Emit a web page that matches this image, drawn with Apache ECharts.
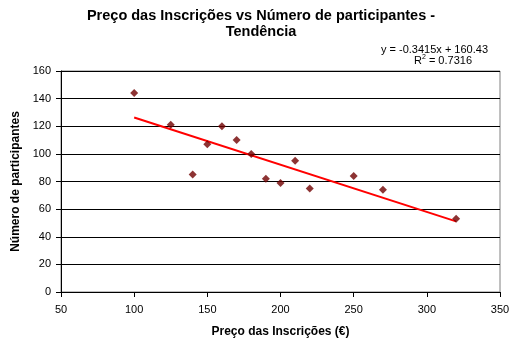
<!DOCTYPE html>
<html>
<head>
<meta charset="utf-8">
<script src="https://cdn.jsdelivr.net/npm/echarts@6/dist/echarts.min.js"></script>
<style>
  html, body { margin: 0; padding: 0; background: #fff; }
  #chart { width: 516px; height: 347px; }
</style>
</head>
<body>
<div id="chart"></div>
<script>
// Registration price (€) against number of participants
const precos = [100, 125, 140, 150, 160, 170, 180, 190, 200, 210, 220, 250, 270, 320];
const participantes = [144, 121, 85, 107, 120, 110, 100, 82, 79, 95, 75, 84, 74, 53];

// Linear trend line coefficients
const declive = -0.3415;
const ordenada = 160.43;
const r2 = 0.7316;

const pontos = precos.map((p, i) => [p, participantes[i]]);
const xMin = Math.min(...precos), xMax = Math.max(...precos);
const tendencia = [
  [xMin, declive * xMin + ordenada],
  [xMax, declive * xMax + ordenada]
];

const fonte = 'Liberation Sans, Arial, sans-serif';
const chart = echarts.init(document.getElementById('chart'), null, { renderer: 'canvas' });

chart.setOption({
  animation: false,
  backgroundColor: '#fff',
  title: [
    {
      text: 'Preço das Inscrições vs Número de participantes -\nTendência',
      left: 256, top: 3, textAlign: 'center',
      textStyle: { fontFamily: fonte, fontSize: 14.5, fontWeight: 'bold', color: '#000', lineHeight: 16 }
    },
    {
      text: 'y = ' + declive + 'x + ' + ordenada,
      right: 23, top: 39,
      textStyle: { fontFamily: fonte, fontSize: 11, fontWeight: 'normal', color: '#000' }
    },
    {
      text: '{a|R}{s|2}{a| = ' + r2.toFixed(4) + '}',
      left: 438, top: 49, textAlign: 'center',
      textStyle: {
        fontFamily: fonte, fontSize: 11, fontWeight: 'normal', color: '#000',
        rich: {
          a: { fontFamily: fonte, fontSize: 11, color: '#000', lineHeight: 13 },
          s: { fontFamily: fonte, fontSize: 7, color: '#000', verticalAlign: 'top', lineHeight: 13 }
        }
      }
    }
  ],
  grid: { left: 61, right: 16, top: 71, bottom: 55, show: true, borderColor: '#808080', borderWidth: 1 },
  xAxis: {
    type: 'value', min: 50, max: 350, interval: 50,
    name: 'Preço das Inscrições (€)', nameLocation: 'middle', nameGap: 34,
    nameTextStyle: { fontFamily: fonte, fontSize: 12, fontWeight: 'bold', color: '#000' },
    axisLine: { show: true, lineStyle: { color: '#000', width: 1 } },
    axisTick: { show: true, length: 5, lineStyle: { color: '#000' } },
    axisLabel: { fontFamily: fonte, fontSize: 11, color: '#000', margin: 12 },
    splitLine: { show: false }
  },
  yAxis: {
    type: 'value', min: 0, max: 160, interval: 20,
    name: 'Número de participantes', nameLocation: 'middle', nameGap: 38,
    nameTextStyle: { fontFamily: fonte, fontSize: 12, fontWeight: 'bold', color: '#000' },
    axisLine: { show: true, lineStyle: { color: '#000', width: 1 } },
    axisTick: { show: true, length: 5, lineStyle: { color: '#000' } },
    axisLabel: { fontFamily: fonte, fontSize: 11, color: '#000', margin: 10 },
    splitLine: { show: true, lineStyle: { color: '#000', width: 1 } }
  },
  series: [
    {
      type: 'line', data: tendencia, symbol: 'none', silent: true,
      lineStyle: { color: '#ff0000', width: 2 }, z: 2
    },
    {
      type: 'scatter', data: pontos, symbol: 'diamond', symbolSize: 8,
      itemStyle: { color: '#700000' }, z: 3
    }
  ]
});
</script>
</body>
</html>
